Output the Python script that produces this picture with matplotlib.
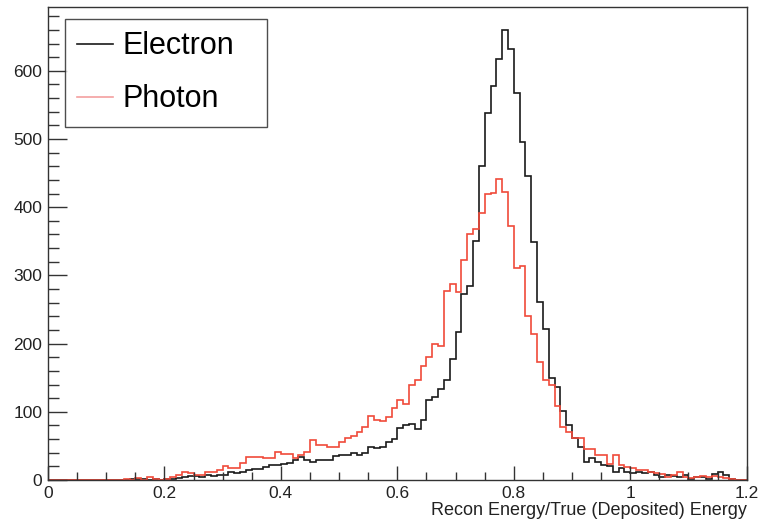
import matplotlib
matplotlib.use("Agg")
import matplotlib.pyplot as plt
from matplotlib.ticker import MultipleLocator
import numpy as np

plt.rcParams['font.family'] = ['Liberation Sans', 'DejaVu Sans']

# histogram binning: 120 bins from 0 to 1.2
nbins, xmin, xmax = 120, 0.0, 1.2
edges = np.linspace(xmin, xmax, nbins + 1)

# bin contents (bins 0.00-0.01 ... 1.19-1.20)
electron = [
    0, 0, 0, 0, 0, 0, 0, 0, 0, 0,                  # 0.00 - 0.09
    0, 0, 0, 0, 1, 1, 1, 0, 1, 0,                  # 0.10 - 0.19
    1, 2, 3, 5, 6, 6, 5, 8, 6, 8,                  # 0.20 - 0.29
    8, 11, 10, 12, 15, 16, 16, 19, 22, 22,         # 0.30 - 0.39
    24, 25, 29, 33, 29, 27, 29, 29, 30, 35,        # 0.40 - 0.49
    37, 37, 39, 37, 40, 49, 47, 49, 56, 60,        # 0.50 - 0.59
    76, 80, 82, 75, 88, 117, 122, 134, 147, 178,   # 0.60 - 0.69
    217, 272, 284, 351, 461, 538, 577, 617, 660, 632,  # 0.70 - 0.79
    568, 495, 446, 349, 261, 221, 149, 136, 101, 81,   # 0.80 - 0.89
    61, 49, 27, 32, 26, 22, 20, 12, 17, 12,        # 0.90 - 0.99
    10, 12, 10, 11, 7, 4, 7, 6, 5, 7,              # 1.00 - 1.09
    1, 4, 5, 2, 9, 11, 7, 2, 0, 0,                 # 1.10 - 1.19
]
photon = [
    0, 0, 0, 0, 0, 0, 0, 0, 0, 0,                  # 0.00 - 0.09
    0, 0, 0, 2, 0, 3, 0, 5, 2, 0,                  # 0.10 - 0.19
    2, 5, 7, 12, 10, 7, 7, 11, 12, 15,             # 0.20 - 0.29
    20, 17, 17, 25, 34, 34, 33, 32, 32, 41,        # 0.30 - 0.39
    38, 38, 32, 37, 41, 59, 51, 51, 49, 49,        # 0.40 - 0.49
    56, 61, 64, 71, 78, 94, 88, 86, 92, 105,       # 0.50 - 0.59
    117, 112, 139, 146, 167, 181, 200, 197, 277, 288,  # 0.60 - 0.69
    275, 323, 361, 368, 391, 419, 421, 442, 423, 372,  # 0.70 - 0.79
    311, 314, 241, 214, 173, 147, 139, 108, 78, 71,    # 0.80 - 0.89
    61, 62, 46, 46, 37, 36, 24, 37, 22, 19,        # 0.90 - 0.99
    17, 15, 14, 12, 10, 9, 5, 7, 11, 5,            # 1.00 - 1.09
    3, 4, 6, 5, 6, 4, 3, 1, 0, 0,                  # 1.10 - 1.19
]

fig = plt.figure(figsize=(7.6, 5.24), dpi=100)
ax = fig.add_axes([48 / 760, 1 - 480 / 524, 698.7 / 760, 473.3 / 524])

ax.stairs(electron, edges, color='#1a1a1a', linewidth=1.2, label='Electron')
ax.stairs(photon, edges, color='#f04a3a', linewidth=1.2, label='Photon')

ax.set_xlim(xmin, xmax)
ax.set_ylim(0, 694)

ax.set_xticks([0, 0.2, 0.4, 0.6, 0.8, 1.0, 1.2])
ax.set_xticklabels(['0', '0.2', '0.4', '0.6', '0.8', '1', '1.2'])
ax.xaxis.set_minor_locator(MultipleLocator(0.05))
ax.yaxis.set_major_locator(MultipleLocator(100))
ax.yaxis.set_minor_locator(MultipleLocator(20))

ax.tick_params(axis='both', which='both', direction='in', colors='#333333',
               labelcolor='#222222', labelsize=12.5, top=False, right=False)
ax.tick_params(axis='y', which='major', length=14, width=1, pad=4)
ax.tick_params(axis='y', which='minor', length=8, width=1)
ax.tick_params(axis='x', which='major', length=10, width=1, pad=4)
ax.tick_params(axis='x', which='minor', length=6, width=1)

for s in ax.spines.values():
    s.set_color('#333333')
    s.set_linewidth(1)

ax.set_xlabel('Recon Energy/True (Deposited) Energy', loc='right', fontsize=13,
              color='#222222', labelpad=1)

leg = ax.legend(loc='upper left', bbox_to_anchor=(0.0243, 0.746, 0.289, 0.228),
                mode='expand', borderaxespad=0,
                fontsize=22, frameon=True, fancybox=False, edgecolor='#222222',
                handlelength=1.18, handletextpad=0.3, borderpad=0.4,
                labelspacing=0.76)
leg.get_frame().set_linewidth(1)
for line in leg.get_lines():
    line.set_linewidth(1.2)
leg.get_lines()[1].set_color('#f4a0a0')
leg.set_zorder(5)

fig.savefig('out.png', dpi=100)
